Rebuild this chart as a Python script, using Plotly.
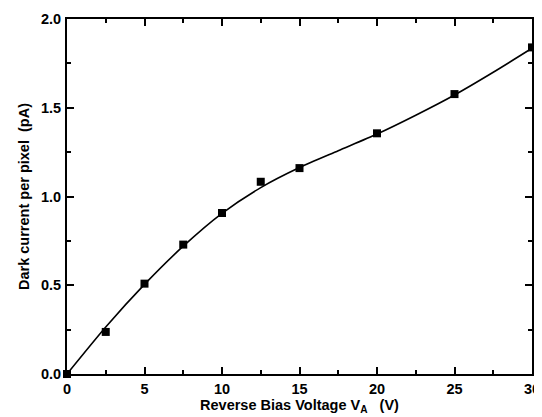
import plotly.graph_objects as go

# measured points
volt = [0, 2.5, 5, 7.5, 10, 12.5, 15, 20, 25, 30]
dark = [0.0, 0.237, 0.509, 0.729, 0.907, 1.083, 1.16, 1.356, 1.577, 1.84]

# fitted curve
fit_v = [0, 2.5, 5, 7.5, 10, 12.5, 15, 17.5, 20, 22.5, 25, 27.5, 30]
fit_i = [0.0, 0.265, 0.505, 0.72, 0.905, 1.05, 1.163, 1.258, 1.352, 1.458, 1.572, 1.70, 1.835]

x_ticks = [0, 5, 10, 15, 20, 25, 30]
y_ticks = [0.0, 0.5, 1.0, 1.5, 2.0]
y_labels = ["0.0", "0.5", "1.0", "1.5", "2.0"]

tick_font = dict(family="Liberation Sans, Arial, sans-serif", size=14.5, color="black", weight="bold")
title_font = dict(family="Liberation Sans, Arial, sans-serif", size=14.5, color="black", weight="bold")

fig = go.Figure()
fig.add_trace(go.Scatter(x=fit_v, y=fit_i, mode="lines",
                         line=dict(color="black", width=1.6, shape="spline", smoothing=0.7),
                         showlegend=False, hoverinfo="skip", cliponaxis=False))
fig.add_trace(go.Scatter(x=volt, y=dark, mode="markers",
                         marker=dict(symbol="square", size=8, color="black"),
                         showlegend=False, cliponaxis=False))

axis_common = dict(showgrid=False, zeroline=False, showline=True, linecolor="black", linewidth=2,
                   mirror="allticks", ticks="inside", tickcolor="black", ticklen=7, tickwidth=1.5,
                   tickfont=tick_font, automargin=False)

fig.update_layout(
    width=534, height=409,
    margin=dict(l=59, r=10, t=11, b=43),
    paper_bgcolor="white", plot_bgcolor="white",
    font=tick_font,
    xaxis=dict(range=[0, 30], tickvals=x_ticks, ticktext=[str(v) for v in x_ticks],
               minor=dict(tickvals=[2.5, 7.5, 12.5, 17.5, 22.5, 27.5], ticks="inside", ticklen=4, tickcolor="black"),
               title=dict(text="Reverse Bias Voltage V<sub>A</sub>   (V)", font=title_font, standoff=2),
               ticklabelstandoff=1,
               **axis_common),
    yaxis=dict(range=[0, 2.0], tickvals=y_ticks, ticktext=y_labels,
               minor=dict(tickvals=[0.25, 0.75, 1.25, 1.75], ticks="inside", ticklen=4, tickcolor="black"),
               title=dict(text="Dark current per pixel  (pA)", font=title_font, standoff=8),
               ticklabelstandoff=1,
               **axis_common),
)

fig.write_html("out.html")
